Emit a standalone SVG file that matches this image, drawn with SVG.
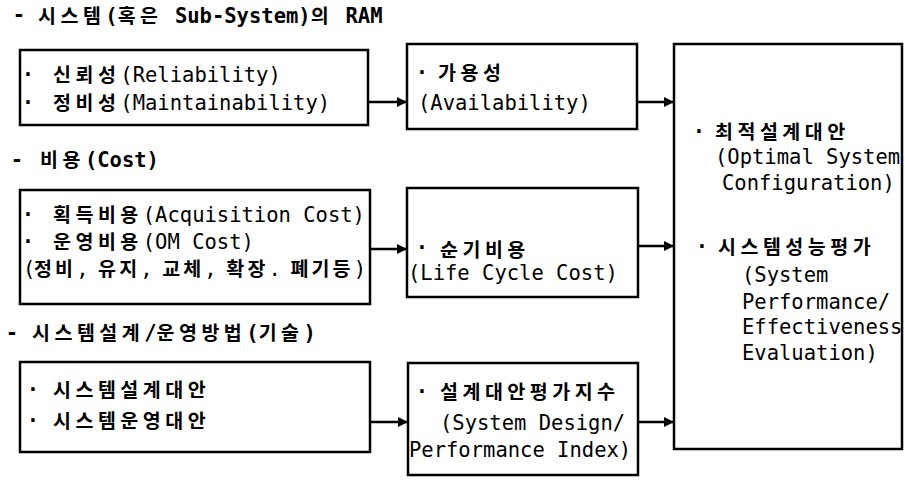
<svg xmlns="http://www.w3.org/2000/svg" width="905" height="483" viewBox="0 0 905 483">
<defs>
<style>
text{font-family:"DejaVu Sans Mono","Liberation Mono","Noto Sans CJK KR",monospace;font-size:20.5px;fill:#000;white-space:pre}
.k{font-family:"Noto Sans CJK KR","Noto Sans CJK SC",sans-serif;font-weight:700;font-size:19.5px;letter-spacing:4.5px}
.h{font-weight:700}
.b{text-anchor:middle;font-weight:700}
.box{fill:#fff;stroke:#000;stroke-width:2.5}
.con{stroke:#000;stroke-width:2.5;fill:none}
</style>
<marker id="ah" viewBox="0 0 10 10" refX="9" refY="5" markerWidth="4" markerHeight="4" orient="auto" markerUnits="strokeWidth">
<path d="M0,0 L10,5 L0,10 Z" fill="#000"/>
</marker>
</defs>
<rect width="905" height="483" fill="#fff"/>

<g id="headers">
<text class="b" x="19" y="22">-</text>
<text class="h" x="38" y="23"><tspan class="k">시스템</tspan>(<tspan class="k">혹은</tspan> Sub-System)<tspan class="k">의</tspan> RAM</text>
<text class="b" x="17" y="167">-</text>
<text class="h" x="40" y="167"><tspan class="k">비용</tspan>(Cost)</text>
<text class="b" x="12" y="340">-</text>
<text class="h" x="32" y="340"><tspan class="k">시스템설계</tspan>/<tspan class="k">운영방법</tspan>(<tspan class="k">기술</tspan>)</text>
</g>

<g id="node-ram">
<rect class="box" x="20" y="50" width="348" height="75"/>
<text class="b" x="28" y="82">·</text>
<text x="53" y="82"><tspan class="k">신뢰성</tspan>(Reliability)</text>
<text class="b" x="28" y="110">·</text>
<text x="53" y="110"><tspan class="k">정비성</tspan>(Maintainability)</text>
</g>

<g id="node-availability">
<rect class="box" x="407" y="44" width="230" height="85"/>
<text class="b" x="422" y="80">·</text>
<text x="438" y="80"><tspan class="k">가용성</tspan></text>
<text x="418" y="110">(Availability)</text>
</g>

<g id="node-result">
<rect class="box" x="674" y="44" width="228" height="405"/>
<text class="b" x="699" y="139">·</text>
<text x="715" y="139"><tspan class="k">최적설계대안</tspan></text>
<text x="715" y="164">(Optimal System</text>
<text x="722" y="190">Configuration)</text>
<text class="b" x="702" y="254">·</text>
<text x="718" y="254"><tspan class="k">시스템성능평가</tspan></text>
<text x="742" y="282">(System</text>
<text x="742" y="309">Performance/</text>
<text x="742" y="334">Effectiveness</text>
<text x="742" y="360">Evaluation)</text>
</g>

<g id="node-cost">
<rect class="box" x="20" y="190" width="350" height="114"/>
<text class="b" x="28" y="222">·</text>
<text x="53" y="222"><tspan class="k">획득비용</tspan>(Acquisition Cost)</text>
<text class="b" x="28" y="249">·</text>
<text x="53" y="249"><tspan class="k">운영비용</tspan>(OM Cost)</text>
<text x="23" y="276" textLength="343" lengthAdjust="spacing">(<tspan class="k">정비</tspan>, <tspan class="k">유지</tspan>, <tspan class="k">교체</tspan>, <tspan class="k">확장</tspan>. <tspan class="k">폐기등</tspan>)</text>
</g>

<g id="node-lcc">
<rect class="box" x="407" y="188" width="231" height="109"/>
<text class="b" x="422" y="255">·</text>
<text x="440" y="257"><tspan class="k">순기비용</tspan></text>
<text x="408" y="280">(Life Cycle Cost)</text>
</g>

<g id="node-design">
<rect class="box" x="20" y="362" width="350" height="90"/>
<text class="b" x="33" y="397">·</text>
<text x="53" y="397"><tspan class="k">시스템설계대안</tspan></text>
<text class="b" x="33" y="428">·</text>
<text x="53" y="428"><tspan class="k">시스템운영대안</tspan></text>
</g>

<g id="node-index">
<rect class="box" x="408" y="363" width="230" height="112"/>
<text class="b" x="422" y="399">·</text>
<text x="440" y="399"><tspan class="k">설계대안평가지수</tspan></text>
<text x="440" y="430">(System Design/</text>
<text x="409" y="457">Performance Index)</text>
</g>

<g id="connectors">
<line class="con" x1="368" y1="102" x2="406" y2="102" marker-end="url(#ah)"/>
<line class="con" x1="637" y1="102" x2="673" y2="102" marker-end="url(#ah)"/>
<line class="con" x1="370" y1="249" x2="406" y2="249" marker-end="url(#ah)"/>
<line class="con" x1="638" y1="246" x2="673" y2="246" marker-end="url(#ah)"/>
<line class="con" x1="370" y1="422" x2="407" y2="422" marker-end="url(#ah)"/>
<line class="con" x1="638" y1="422" x2="673" y2="422" marker-end="url(#ah)"/>
</g>
</svg>
